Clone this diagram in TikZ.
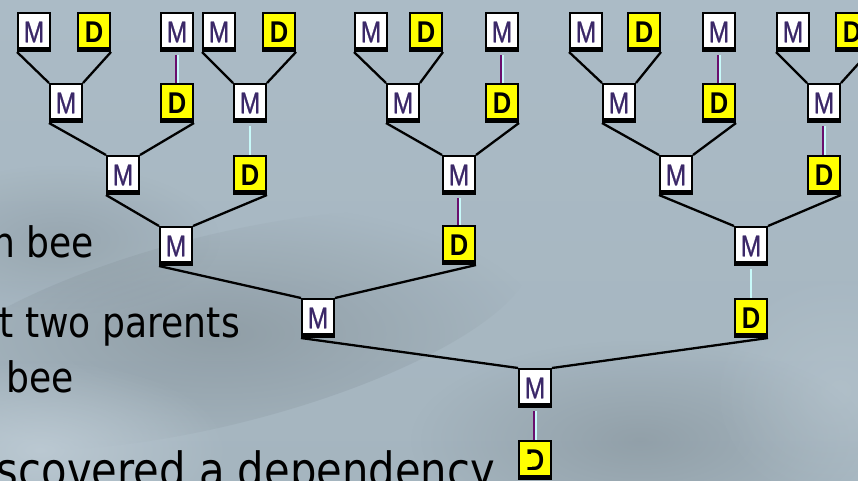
\documentclass[tikz,border=0pt]{standalone}
\usepackage{fontspec}
\usetikzlibrary{fadings}
\newfontfamily\slidefont[FakeStretch=0.86]{DejaVu Sans}
\newfontfamily\boxfont[FakeStretch=0.85]{Liberation Sans}
\newfontfamily\mfont[FakeStretch=0.82, FakeBold=0.8]{Liberation Sans}
\definecolor{bgbase}{HTML}{A5B5BF}
\definecolor{bgtop}{HTML}{ABBBC6}
\definecolor{bgdark}{HTML}{7A868D}
\definecolor{bglight}{HTML}{C2CFD8}
\definecolor{mglyph}{HTML}{3B2868}
\definecolor{dronefill}{HTML}{FFFF00}
\definecolor{linkpurple}{HTML}{6A0F6E}
\definecolor{linkcyan}{HTML}{C8FAFA}
\tikzfading[name=softblob, inner color=transparent!0, outer color=transparent!100]

% mother-to-drone link: purple and cyan strands side by side
\newcommand\dronelink[2]{%
  \draw[linkpurple, line width=2pt] ([xshift=-1pt,yshift=-3pt]#1.south) -- ([xshift=-1pt]#2.north);
  \draw[linkcyan, line width=2pt] ([xshift=1pt,yshift=-3pt]#1.south) -- ([xshift=1pt]#2.north);}
\newcommand\cyanlink[2]{%
  \draw[linkcyan, line width=2.4pt] ([yshift=-3pt]#1.south) -- (#2.north);}
% a female has a mother (left) and a drone father (right)
\newcommand\parents[3]{%
  \draw[parentlink] (#2.south west) -- (#1.north west);
  \draw[parentlink] (#3.south east) -- (#1.north east);}

\begin{document}
\begin{tikzpicture}[x=1pt, y=-1pt,
  bee/.style={draw=black, line width=2pt, minimum width=32pt, minimum height=38pt,
    inner sep=0pt,
    path picture={\fill[black] (path picture bounding box.south west)
      rectangle ([yshift=4pt]path picture bounding box.south east);}},
  female/.style={bee, fill=white, text=mglyph, font=\mfont\fontsize{30}{30}\selectfont},
  drone/.style={bee, fill=dronefill, text=black, font=\boxfont\bfseries\fontsize{30}{30}\selectfont},
  parentlink/.style={draw=black, line width=2.3pt},
  slidetext/.style={inner sep=0pt, anchor=base east, text=black, font=\slidefont\fontsize{42}{42}\selectfont},
  slidebig/.style={slidetext, font=\slidefont\fontsize{48.5}{48.5}\selectfont}]

\path[use as bounding box] (0,0) rectangle (858,481);
\begin{scope}
\clip (0,0) rectangle (858,481);

% background
\shade[top color=bgtop, bottom color=bgbase] (0,0) rectangle (858,481);
\fill[bgdark, opacity=0.5, path fading=softblob, rotate around={14:(220,330)}] (220,330) ellipse (320 and 95);
\fill[bgdark, opacity=0.45, path fading=softblob] (640,440) ellipse (230 and 100);
\fill[bgdark, opacity=0.35, path fading=softblob] (60,240) ellipse (160 and 75);
\fill[bglight, opacity=0.75, path fading=softblob] (40,450) ellipse (190 and 90);
\fill[bglight, opacity=0.35, path fading=softblob] (840,390) ellipse (130 and 120);

% slide text
\node[slidetext] (t1) at (94,257) {n bee};
\node[slidetext] (t2) at (240,337) {t two parents};
\node[slidetext] (t3) at (74,392) {bee};
\node[slidebig] (t4) at (495,487) {scovered a dependency};

% generation 0
\node[female] (m1) at (34,32) {M};
\node[drone]  (d1) at (94,32) {D};
\node[female] (m2) at (177,32) {M};
\node[female] (m3) at (219,32) {M};
\node[drone]  (d2) at (279,32) {D};
\node[female] (m4) at (371,32) {M};
\node[drone]  (d3) at (426,32) {D};
\node[female] (m5) at (502,32) {M};
\node[female] (m6) at (586,32) {M};
\node[drone]  (d4) at (644,32) {D};
\node[female] (m7) at (719,32) {M};
\node[female] (m8) at (793,32) {M};
\node[drone]  (d5) at (852,32) {D};
% generation 1
\node[female] (m9)  at (66,103) {M};
\node[drone]  (d6)  at (177,103) {D};
\node[female] (m10) at (250,103) {M};
\node[female] (m11) at (403,103) {M};
\node[drone]  (d7)  at (502,103) {D};
\node[female] (m12) at (619,103) {M};
\node[drone]  (d8)  at (719,103) {D};
\node[female] (m13) at (824,103) {M};
% generation 2
\node[female] (m14) at (123,175) {M};
\node[drone]  (d9)  at (250,175) {D};
\node[female] (m15) at (459,175) {M};
\node[female] (m16) at (676,175) {M};
\node[drone]  (d10) at (824,175) {D};
% generation 3
\node[female] (m17) at (176,246) {M};
\node[drone]  (d11) at (459,245) {D};
\node[female] (m18) at (751,246) {M};
% generation 4
\node[female] (m19) at (318,318) {M};
\node[drone]  (d12) at (751,318) {D};
% generation 5
\node[female] (m20) at (535,388) {M};
% generation 6
\node[drone]  (d13) at (535,460) {D};
\fill[dronefill] ([xshift=-9pt,yshift=-6.5pt]d13.center) rectangle ([xshift=-3.4pt,yshift=6.5pt]d13.center);

% parent links of the females
\parents{m9}{m1}{d1}
\parents{m10}{m3}{d2}
\parents{m11}{m4}{d3}
\parents{m12}{m6}{d4}
\parents{m13}{m8}{d5}
\parents{m14}{m9}{d6}
\parents{m15}{m11}{d7}
\parents{m16}{m12}{d8}
\parents{m17}{m14}{d9}
\parents{m18}{m16}{d10}
\parents{m19}{m17}{d11}
\parents{m20}{m19}{d12}

% mother links of the drones
\dronelink{m2}{d6}
\dronelink{m5}{d7}
\dronelink{m7}{d8}
\cyanlink{m10}{d9}
\dronelink{m13}{d10}
\dronelink{m15}{d11}
\cyanlink{m18}{d12}
\dronelink{m20}{d13}
\end{scope}
\end{tikzpicture}
\end{document}
